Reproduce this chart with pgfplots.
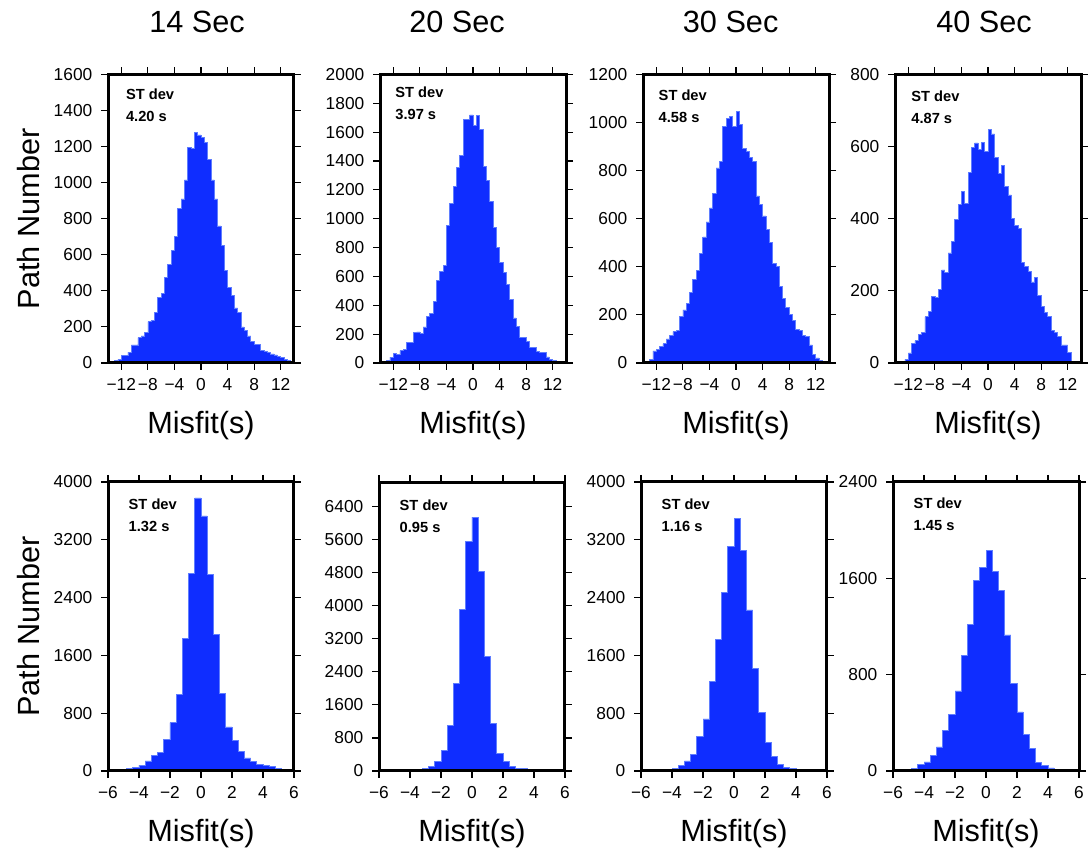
\documentclass[border=0pt]{standalone}
\usepackage{fontspec}
\setmainfont{Liberation Sans}
\usepackage{pgfplots}
\usepackage{pgfplotstable}
\pgfplotsset{compat=1.18}
\definecolor{histblue}{RGB}{15,45,255}
\definecolor{histedge}{RGB}{95,125,255}

\pgfplotstableread{
x p1 p2 p3 p4
-14 5 3 3 0
-13.5 10 10 8 2
-13 15 20 15 3
-12.5 20 40 50 10
-12 40 65 58 28
-11.5 40 60 70 55
-11 60 85 80 62
-10.5 100 95 100 80
-10 100 140 116 85
-9.5 140 140 130 128
-9 150 210 137 143
-8.5 170 215 192 185
-8 230 205 221 182
-7.5 235 250 248 203
-7 280 320 293 258
-6.5 365 346 349 250
-6 385 427 386 305
-5.5 475 573 455 337
-5 545 637 524 398
-4.5 625 677 587 440
-4 700 954 645 475
-3.5 855 1108 706 442
-3 910 1226 811 528
-2.5 1015 1358 840 597
-2 1195 1439 985 610
-1.5 1190 1686 1016 593
-1 1280 1690 1024 612
-0.5 1265 1720 985 587
0 1250 1644 1045 647
0.5 1225 1714 992 635
1 1130 1617 891 570
1.5 1015 1363 880 525
2 910 1266 854 548
2.5 760 1118 839 490
3 650 942 695 466
3.5 515 804 659 400
4 420 700 612 382
4.5 375 630 555 374
5 305 545 500 280
5.5 280 441 415 267
6 200 312 401 255
6.5 180 256 317 225
7 150 180 268 237
7.5 120 180 231 187
8 105 152 203 158
8.5 105 110 176 140
9 70 110 138 128
9.5 65 80 134 90
10 60 76 116 85
10.5 50 76 111 73
11 45 42 75 50
11.5 35 25 37 50
12 30 18 21 30
12.5 20 10 12 0
13 15 5 3 0
13.5 10 2 0 0
14 10 2 0 0
}\topdata

\pgfplotstableread{
x p5 p6 p7 p8
-6 0 0 0 0
-5.6 0 0 0 0
-5.2 0 0 0 0
-4.8 37 0 0 20
-4.4 45 0 0 55
-4 80 0 37 75
-3.6 140 15 80 130
-3.2 210 57 140 200
-2.8 260 110 230 340
-2.4 440 230 480 470
-2 670 500 720 665
-1.6 1060 1100 1240 960
-1.2 1830 2130 1820 1220
-0.8 2740 3910 2470 1580
-0.4 3780 5570 3110 1690
0 3530 6150 3500 1830
0.4 2720 4840 3050 1660
0.8 1890 2770 2230 1500
1.2 1070 1150 1420 1130
1.6 610 430 810 730
2 420 230 400 490
2.4 270 110 200 305
2.8 180 60 90 185
3.2 130 60 50 70
3.6 95 40 30 45
4 80 40 0 25
4.4 60 5 0 12
4.8 40 0 0 0
5.2 0 0 0 0
5.6 0 0 0 0
6 0 0 0 0
}\botdata

\pgfplotsset{
  hist/.style={
    scale only axis,
    axis on top,
    enlargelimits=false,
    tick align=outside,
    tick pos=both,
    ticklabel pos=left,
    major tick length=5.25pt,
    tick style={line width=0.8pt, black},
    axis line style={line width=2.25pt},
    ticklabel style={font=\fontsize{13}{15}\selectfont},
    xticklabel style={yshift=-3pt},
    yticklabel style={xshift=-3pt},
    /pgf/number format/assume math mode=true,
    /pgf/number format/1000 sep={},
    scaled y ticks=false,
    xlabel={Misfit(s)},
    xlabel style={at={(axis description cs:0.5,0)}, anchor=base, yshift=-53pt, font=\fontsize{23}{26}\selectfont},
    ylabel style={at={(axis description cs:0,0.5)}, anchor=base, yshift=51pt, font=\fontsize{23}{26}\selectfont},
    title style={at={(axis description cs:0.5,1)}, anchor=base, yshift=25.5pt, font=\fontsize{23}{26}\selectfont},
  },
  toprow/.style={hist, width=139.5pt, height=216.4pt, xmin=-14, xmax=14, ymin=0,
    xtick={-12,-8,-4,0,4,8,12}, xticklabels={−12,−8,−4,0,4,8,12}},
  botrow/.style={hist, width=139.5pt, height=216.75pt, xmin=-6, xmax=6, ymin=0,
    xtick={-6,-4,-2,0,2,4,6}, xticklabels={−6,−4,−2,0,2,4,6}},
  histplot/.style={const plot, fill=histblue, draw=histedge, line width=0.5pt},
}
\newcommand{\stdev}[3]{%
  \node[anchor=base west, font=\bfseries\fontsize{11}{13}\selectfont, xshift=#2, yshift=#3] at (rel axis cs:0,1) {ST dev};
  \node[anchor=base west, font=\bfseries\fontsize{11}{13}\selectfont, xshift=#2, yshift=#3-16.5pt] at (rel axis cs:0,1) {#1};
}

\begin{document}
\begin{tikzpicture}
\path[use as bounding box] (0,0) rectangle (816pt,639pt);

% ---- top row ----
\begin{axis}[toprow, at={(81pt,366.75pt)}, anchor=south west, ymax=1600,
  ytick={0,200,...,1600}, ylabel={Path Number}, title={14 Sec}, title style={xshift=-3pt}]
\addplot[histplot] table[x=x,y=p1]{\topdata} \closedcycle;
\stdev{4.20 s}{10pt}{-19pt}
\end{axis}

\begin{axis}[toprow, at={(285pt,366.75pt)}, anchor=south west, ymax=2000,
  ytick={0,200,...,2000}, title={20 Sec}, title style={xshift=-12pt}]
\addplot[histplot] table[x=x,y=p2]{\topdata} \closedcycle;
\stdev{3.97 s}{8pt}{-17.5pt}
\end{axis}

\begin{axis}[toprow, at={(482.25pt,366.75pt)}, anchor=south west, ymax=1200,
  ytick={0,200,...,1200}, title={30 Sec}, title style={xshift=-4pt}]
\addplot[histplot] table[x=x,y=p3]{\topdata} \closedcycle;
\stdev{4.58 s}{8.25pt}{-19.5pt}
\end{axis}

\begin{axis}[toprow, at={(671.25pt,366.75pt)}, anchor=south west, ymax=800,
  ytick={0,200,...,800}, title={40 Sec}, title style={xshift=-3pt}]
\addplot[histplot] table[x=x,y=p4]{\topdata} \closedcycle;
\stdev{4.87 s}{8.75pt}{-20.5pt}
\end{axis}

% ---- bottom row ----
\begin{axis}[botrow, at={(81pt,60.75pt)}, anchor=south west, ymax=4000,
  ytick={0,800,...,4000}, ylabel={Path Number}]
\addplot[histplot] table[x=x,y=p5]{\botdata} \closedcycle;
\stdev{1.32 s}{12pt}{-20.75pt}
\end{axis}

\begin{axis}[botrow, at={(284.25pt,60.75pt)}, anchor=south west, ymax=7000,
  ytick={0,800,...,6400}]
\addplot[histplot] table[x=x,y=p6]{\botdata} \closedcycle;
\stdev{0.95 s}{12pt}{-21.5pt}
\end{axis}

\begin{axis}[botrow, at={(480.75pt,60.75pt)}, anchor=south west, ymax=4000,
  ytick={0,800,...,4000}]
\addplot[histplot] table[x=x,y=p7]{\botdata} \closedcycle;
\stdev{1.16 s}{12pt}{-21pt}
\end{axis}

\begin{axis}[botrow, at={(669.75pt,60.75pt)}, anchor=south west, ymax=2400,
  ytick={0,800,...,2400}]
\addplot[histplot] table[x=x,y=p8]{\botdata} \closedcycle;
\stdev{1.45 s}{12pt}{-20.25pt}
\end{axis}
\end{tikzpicture}
\end{document}
